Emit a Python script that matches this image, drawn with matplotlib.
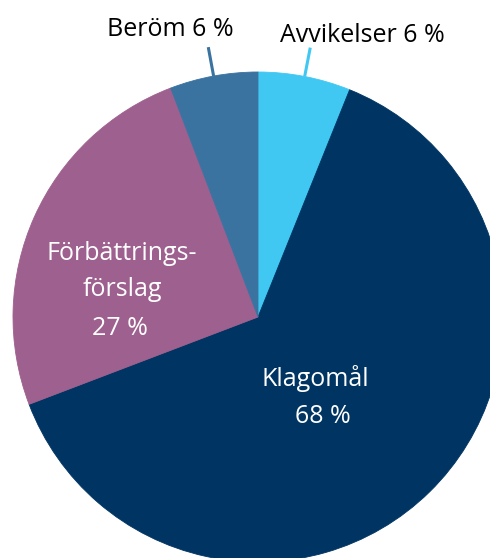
import matplotlib
matplotlib.use("Agg")
import matplotlib.pyplot as plt
import numpy as np

plt.rcParams['font.family'] = ['Open Sans', 'DejaVu Sans']

# categories, clockwise from the top
categories = ["Avvikelser", "Klagomål", "Förbättringsförslag", "Beröm"]
shares = [6.1, 63.1, 25.0, 5.8]          # wedge sizes as drawn
label_pct = [6, 68, 27, 6]               # percentages printed on the chart
colors = ["#40c8f2", "#003462", "#9e608e", "#3a72a0"]

R_PX = 245.0
CX, CY = 258.0, 317.0
W, H = 490, 558


def px(x, y):
    # pixel position -> data coords (pie radius = 1)
    return (x - CX) / R_PX, (CY - y) / R_PX


fig = plt.figure(figsize=(W / 100, H / 100), dpi=100)
ax = fig.add_axes([0, 0, 1, 1])
wedges, _ = ax.pie(shares, colors=colors, startangle=90, counterclock=False,
                   radius=1, center=(0, 0), wedgeprops=dict(linewidth=0.6))
for w, c in zip(wedges, colors):
    w.set_edgecolor(c)  # hide antialias seams between wedges
ax.set_xlim(-CX / R_PX, (W - CX) / R_PX)
ax.set_ylim(-(H - CY) / R_PX, CY / R_PX)
ax.set_aspect("equal")
ax.axis("off")

fs = 18

# outside labels with short leader lines
for i, tpos in [(3, (170, 36)), (0, (362, 42))]:
    w = wedges[i]
    ang = np.deg2rad((w.theta1 + w.theta2) / 2)
    ax.plot([np.cos(ang), 1.12 * np.cos(ang)], [np.sin(ang), 1.12 * np.sin(ang)],
            color=colors[i], lw=2.2, solid_capstyle="butt")
    x, y = px(*tpos)
    ax.text(x, y, f"{categories[i]} {label_pct[i]} %", fontsize=fs,
            ha="center", va="baseline", color="black")

# inside labels
x, y = px(122, 260)
ax.text(x, y, "Förbättrings-", fontsize=fs, ha="center", va="baseline", color="white")
x, y = px(122, 296)
ax.text(x, y, "förslag", fontsize=fs, ha="center", va="baseline", color="white")
x, y = px(120, 335)
ax.text(x, y, f"{label_pct[2]} %", fontsize=fs, ha="center", va="baseline", color="white")

x, y = px(315, 386)
ax.text(x, y, categories[1], fontsize=fs, ha="center", va="baseline", color="white")
x, y = px(323, 423)
ax.text(x, y, f"{label_pct[1]} %", fontsize=fs, ha="center", va="baseline", color="white")

fig.savefig("out.png", dpi=100)
